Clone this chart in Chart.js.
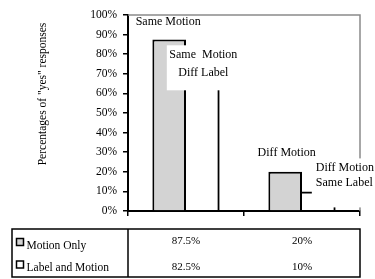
<!DOCTYPE html>
<html>
<head>
<meta charset="utf-8">
<script src="https://cdn.jsdelivr.net/npm/chart.js@4/dist/chart.umd.min.js"></script>
<style>
  html, body { margin: 0; padding: 0; background: #fff; }
  canvas { display: block; }
</style>
</head>
<body>
<canvas id="chart" width="375" height="279"></canvas>
<script>
// conditions on the x axis (one group of bars each)
const conditions = ["Same Motion", "Diff Motion"];
// the two series, also the rows of the table under the chart
const seriesNames = ["Motion Only", "Label and Motion"];
const motionOnly = [87.5, 20];
const labelAndMotion = [82.5, 10];
// text written next to each bar
const motionOnlyNotes = [["Same Motion"], ["Diff Motion"]];
const labelAndMotionNotes = [["Same  Motion", "Diff Label"], ["Diff Motion", "Same Label"]];
const yTitle = 'Percentages of "yes" responses';

const serif = '"Liberation Serif", "Times New Roman", serif';
const grey = '#d3d3d3';

// where each note sits, relative to the top centre of its bar
const notePlacement = [
  [ { dx: -1, dy: -17.5, align: 'center' },
    { dx: 1.5, dy: -19, align: 'center' } ],
  [ { dx: 0.5, dy: 6, lh: 18, align: 'center', box: [-36, -4, 38, 41] },
    { dx: -3, dy: -23.5, lh: 14.5, align: 'left', box: [-7, -33, 70, 16] } ]
];
const notes = [motionOnlyNotes, labelAndMotionNotes];

const notesPlugin = {
  id: 'notes',
  afterDatasetsDraw(chart) {
    const { ctx, chartArea: a } = chart;
    ctx.save();
    // grey frame on top and right of the plot
    ctx.strokeStyle = '#8a8a8a';
    ctx.lineWidth = 1.5;
    ctx.beginPath();
    ctx.moveTo(a.left, a.top);
    ctx.lineTo(a.right, a.top);
    ctx.lineTo(a.right, a.bottom);
    ctx.stroke();

    ctx.font = '12px ' + serif;
    ctx.fillStyle = '#000';
    ctx.textBaseline = 'middle';
    notes.forEach((set, i) => {
      const meta = chart.getDatasetMeta(i);
      set.forEach((lines, j) => {
        const bar = meta.data[j];
        const p = notePlacement[i][j];
        const x = bar.x + p.dx, y = bar.y + p.dy;
        if (p.box) {
          ctx.fillStyle = '#fff';
          ctx.fillRect(bar.x + p.box[0], bar.y + p.box[1], p.box[2] - p.box[0], p.box[3] - p.box[1]);
          ctx.fillStyle = '#000';
        }
        ctx.textAlign = p.align;
        lines.forEach((t, k) => ctx.fillText(t, x, y + k * (p.lh || 0)));
      });
    });

    // y axis title
    ctx.translate(43, 94);
    ctx.rotate(-Math.PI / 2);
    ctx.textAlign = 'center';
    ctx.font = '11.5px ' + serif;
    ctx.fillText(yTitle, 0, 0);
    ctx.restore();
  }
};

const tablePlugin = {
  id: 'table',
  afterDraw(chart) {
    const { ctx, chartArea: a, scales } = chart;
    const top = a.bottom + 18, bottom = a.bottom + 66, left = 12;
    ctx.save();
    ctx.strokeStyle = '#000';
    ctx.lineWidth = 1.5;
    ctx.strokeRect(left, top, a.right - left, bottom - top);
    ctx.beginPath();
    ctx.moveTo(a.left, top);
    ctx.lineTo(a.left, bottom);
    ctx.stroke();

    const rows = [motionOnly, labelAndMotion];
    const fills = [grey, '#fff'];
    const labelY = [a.bottom + 34.5, a.bottom + 57];
    const valueY = [a.bottom + 30.5, a.bottom + 56.5];
    ctx.fillStyle = '#000';
    ctx.textBaseline = 'middle';
    rows.forEach((vals, r) => {
      // legend swatch
      ctx.fillStyle = fills[r];
      ctx.fillRect(16.5, labelY[r] - 7, 7, 7);
      ctx.strokeRect(16.5, labelY[r] - 7, 7, 7);
      ctx.fillStyle = '#000';
      ctx.font = '11.5px ' + serif;
      ctx.textAlign = 'left';
      ctx.fillText(seriesNames[r], 26.5, labelY[r]);
      ctx.font = '11px ' + serif;
      ctx.textAlign = 'center';
      vals.forEach((v, j) => ctx.fillText(v + '%', scales.x.getPixelForValue(j), valueY[r]));
    });
    ctx.restore();
  }
};

new Chart(document.getElementById('chart'), {
  type: 'bar',
  data: {
    labels: conditions,
    datasets: [{
      label: seriesNames[0],
      data: motionOnly,
      backgroundColor: grey,
      borderColor: '#000',
      borderWidth: 2,
      categoryPercentage: 0.58,
      barPercentage: 1
    }, {
      label: seriesNames[1],
      data: labelAndMotion,
      backgroundColor: 'rgba(255,255,255,0)',
      borderColor: '#000',
      borderWidth: { top: 2, right: 2, bottom: 0, left: 0 },
      borderSkipped: false,
      categoryPercentage: 0.58,
      barPercentage: 1
    }]
  },
  options: {
    responsive: false,
    animation: false,
    devicePixelRatio: 1,
    layout: { padding: { left: 0, top: 15, right: 15, bottom: 0 } },
    plugins: {
      legend: { display: false },
      tooltip: { enabled: false }
    },
    scales: {
      x: {
        offset: true,
        grid: { offset: true, drawOnChartArea: false, tickLength: 5, color: '#000', lineWidth: 1.5 },
        border: { color: '#000', width: 2 },
        ticks: { display: false },
        afterFit(s) { s.height = 68; }
      },
      y: {
        min: 0,
        max: 100,
        ticks: {
          stepSize: 10,
          padding: 6,
          color: '#000',
          font: { family: serif, size: 11.5 },
          callback: v => v + '%'
        },
        grid: { drawOnChartArea: false, tickLength: 5, color: '#000', lineWidth: 1.5 },
        border: { color: '#000', width: 2 },
        afterFit(s) { s.width = 128; }
      }
    }
  },
  plugins: [notesPlugin, tablePlugin]
});
</script>
</body>
</html>
